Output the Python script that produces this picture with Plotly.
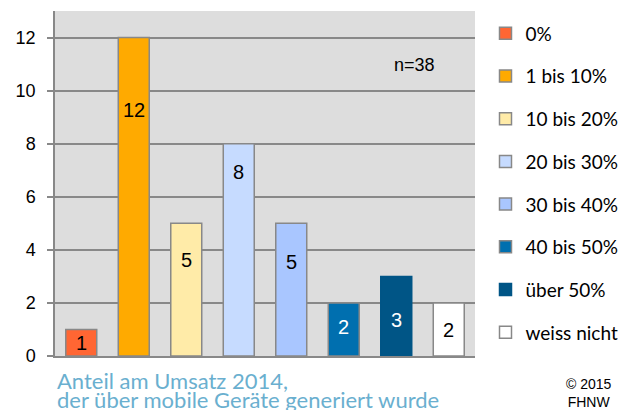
import plotly.graph_objects as go

categories = ["0%", "1 bis 10%", "10 bis 20%", "20 bis 30%", "30 bis 40%",
              "40 bis 50%", "über 50%", "weiss nicht"]
counts = [1, 12, 5, 8, 5, 2, 3, 2]
colors = ["#FF6633", "#FFAA00", "#FFEBA8", "#C6DBFF", "#A9C6FF",
          "#006FAF", "#005586", "#FFFFFF"]
label_colors = ["black", "black", "black", "black", "black", "white", "white", "black"]
label_y = [0.49, 9.26, 3.61, 6.93, 3.54, 1.1, 1.36, 0.98]
line_colors = ["#888888"] * 6 + ["#005586", "#888888"]
title_lines = ["Anteil am Umsatz 2014,", "der über mobile Geräte generiert wurde"]

fig = go.Figure()
for cat, val, col, lc in zip(categories, counts, colors, line_colors):
    fig.add_trace(go.Bar(
        x=[cat], y=[val], name=cat, legendgroup=cat,
        marker=dict(color=col, line=dict(color=lc, width=1.5)),
        width=0.59, hoverinfo="skip",
    ))

annotations = []
for cat, val, ly, tc in zip(categories, counts, label_y, label_colors):
    annotations.append(dict(x=cat, y=ly, text=str(val), showarrow=False,
                            xref="x", yref="y",
                            font=dict(family="Liberation Sans, Arial", size=20, color=tc)))

for i, line in enumerate(title_lines):
    annotations.append(dict(x=0.0, y=-0.07 - 0.055 * i, xref="paper", yref="paper",
                            xanchor="left", yanchor="middle", showarrow=False, text=line,
                            font=dict(family="Lato, Noto Sans", size=22, color="#6AAFCF")))

annotations += [
    dict(x=0.857, y=0.843, xref="paper", yref="paper", xanchor="center", yanchor="middle",
         text="n=38", showarrow=False,
         font=dict(family="Liberation Sans, Arial", size=18, color="black")),
    dict(x=1.272, y=-0.052, xref="paper", yref="paper", xanchor="center", yanchor="top",
         align="center", showarrow=False, text="© 2015<br>FHNW",
         font=dict(family="Liberation Sans, Arial", size=14, color="black")),
]

fig.update_layout(
    width=626, height=410,
    margin=dict(l=55, r=151, t=11, b=54, autoexpand=False),
    paper_bgcolor="white", plot_bgcolor="#DDDDDD",
    barmode="overlay",
    showlegend=True,
    legend=dict(x=1.025, y=0.99, xanchor="left", yanchor="top",
                traceorder="grouped", tracegroupgap=15,
                font=dict(family="Lato, Noto Sans", size=19, color="black"),
                bgcolor="rgba(0,0,0,0)"),
    annotations=annotations,
    xaxis=dict(showticklabels=False, showgrid=False, ticks="",
               showline=True, linecolor="#888888", linewidth=1.5,
               categoryorder="array", categoryarray=categories, fixedrange=True),
    yaxis=dict(range=[0, 13], tickvals=[0, 2, 4, 6, 8, 10, 12],
               showgrid=True, gridcolor="#888888", gridwidth=1.5,
               ticks="outside", ticklen=6, tickcolor="#888888", tickwidth=1.5,
               showline=True, linecolor="#888888", linewidth=1.5,
               zeroline=False, ticklabelstandoff=8,
               tickfont=dict(family="Liberation Sans, Arial", size=18, color="black")),
)

fig.write_html("out.html", config={"displayModeBar": False},
               post_script="document.body.style.margin='0';document.body.style.overflow='hidden';")
